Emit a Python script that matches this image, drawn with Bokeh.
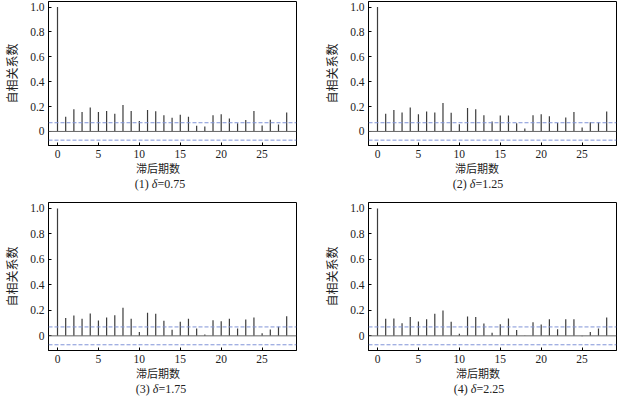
from bokeh.plotting import figure
from bokeh.layouts import column, row
from bokeh.models import Span, FixedTicker, Range1d, Div, PrintfTickFormatter
from bokeh.embed import file_html
from bokeh.resources import INLINE

lags = list(range(29))

acf_075 = [1.0, 0.118, 0.178, 0.157, 0.192, 0.157, 0.165, 0.142, 0.213, 0.165,
           0.084, 0.173, 0.163, 0.131, 0.110, 0.134, 0.118, 0.045, 0.039, 0.131,
           0.139, 0.105, 0.066, 0.092, 0.165, 0.047, 0.094, 0.055, 0.152]
acf_125 = [1.0, 0.142, 0.173, 0.152, 0.192, 0.139, 0.160, 0.152, 0.228, 0.150,
           0.058, 0.189, 0.178, 0.131, 0.079, 0.129, 0.129, 0.066, 0.024, 0.131,
           0.139, 0.123, 0.068, 0.113, 0.157, 0.031, 0.073, 0.071, 0.160]
acf_175 = [1.0, 0.141, 0.160, 0.134, 0.175, 0.120, 0.144, 0.162, 0.220, 0.134,
           0.031, 0.181, 0.173, 0.118, 0.047, 0.110, 0.134, 0.058, 0.010, 0.123,
           0.115, 0.134, 0.058, 0.128, 0.144, 0.021, 0.050, 0.071, 0.154]
acf_225 = [1.0, 0.134, 0.136, 0.099, 0.149, 0.113, 0.131, 0.173, 0.199, 0.110,
           0.016, 0.152, 0.149, 0.097, 0.024, 0.092, 0.136, 0.045, 0.003, 0.107,
           0.089, 0.131, 0.052, 0.131, 0.131, -0.004, 0.031, 0.058, 0.144]

series = [acf_075, acf_125, acf_175, acf_225]
panel_nums = ["(1)", "(2)", "(3)", "(4)"]
deltas = ["=0.75", "=1.25", "=1.75", "=2.25"]
conf_bound = 0.07

x_ticks = [0, 5, 10, 15, 20, 25]
y_ticks = [0, 0.2, 0.4, 0.6, 0.8, 1.0]
y_label = "自相关系数"
x_label = "滞后期数"

SERIF = "Liberation Serif"
CJK = "Noto Sans CJK SC"

label_centers = [158, 157, 158, 158]
caption_centers = [160, 158, 161, 159]


def make_panel(i):
    top_row = i < 2
    left_col = i % 2 == 0
    width = 320 if left_col else 308
    mb_top = 1 if top_row else 10
    frame_h = 144 if top_row else 148
    mb_bot = 16
    height = mb_top + frame_h + mb_bot
    p = figure(width=width, height=height, output_backend="svg",
               toolbar_location=None,
               x_range=Range1d(-1.1, 29.2),
               y_range=Range1d(-0.113, 1.045) if top_row else Range1d(-0.115, 1.047),
               min_border_left=40, min_border_right=24 if left_col else 12,
               min_border_top=mb_top, min_border_bottom=mb_bot,
               background_fill_color="white", border_fill_color="white")
    p.outline_line_color = "black"
    p.outline_line_width = 1
    p.outline_line_alpha = 1
    p.xgrid.visible = False
    p.ygrid.visible = False

    for ax in (p.xaxis[0], p.yaxis[0]):
        ax.axis_line_color = "black"
        ax.major_tick_in = 3
        ax.major_tick_out = 0
        ax.minor_tick_line_color = None
        ax.major_tick_line_color = "black"
        ax.major_label_text_font = SERIF
        ax.major_label_text_font_size = "11.5px"
        ax.major_label_text_color = "#222222"
        ax.major_label_standoff = 4

    p.xaxis[0].ticker = FixedTicker(ticks=x_ticks)
    p.yaxis[0].ticker = FixedTicker(ticks=y_ticks)
    p.yaxis[0].formatter = PrintfTickFormatter(format="%.1f")
    p.yaxis[0].major_label_overrides = {0: "0"}
    p.yaxis[0].axis_label = y_label
    p.yaxis[0].axis_label_text_font = CJK
    p.yaxis[0].axis_label_text_font_size = "12px"
    p.yaxis[0].axis_label_text_font_style = "normal"
    p.yaxis[0].axis_label_text_color = "#222222"
    p.yaxis[0].axis_label_standoff = 7

    p.add_layout(Span(location=conf_bound, dimension="width", line_color="#8094d8",
                      line_width=1, line_dash="4 2"))
    p.add_layout(Span(location=-conf_bound, dimension="width", line_color="#8094d8",
                      line_width=1, line_dash="4 2"))
    p.add_layout(Span(location=0, dimension="width", line_color="#666666",
                      line_width=1))

    vals = series[i]
    p.segment(x0=lags, y0=[0] * len(lags), x1=lags, y1=vals,
              line_color="#3c3c3c", line_width=1.2)

    lc = label_centers[i]
    cc = caption_centers[i]
    html = (
        f'<div style="color:#222;margin:0;padding:0;">'
        f'<div style="width:200px;margin-left:{lc - 100}px;text-align:center;'
        f'font-family:\'{CJK}\';font-size:11px;line-height:15px;">{x_label}</div>'
        f'<div style="width:200px;margin-left:{cc - 100}px;text-align:center;'
        f'font-family:\'{SERIF}\';font-size:12px;line-height:16px;">'
        f'{panel_nums[i]} <i>δ</i>{deltas[i]}</div>'
        f'</div>'
    )
    d = Div(text=html, width=width, height=31, margin=(0, 0, 0, 0))
    return column(p, d, spacing=0)


panels = [make_panel(i) for i in range(4)]
page = column(row(panels[0], panels[1], spacing=0),
              row(panels[2], panels[3], spacing=0), spacing=0)

open("out.html", "w").write(file_html(page, INLINE))
